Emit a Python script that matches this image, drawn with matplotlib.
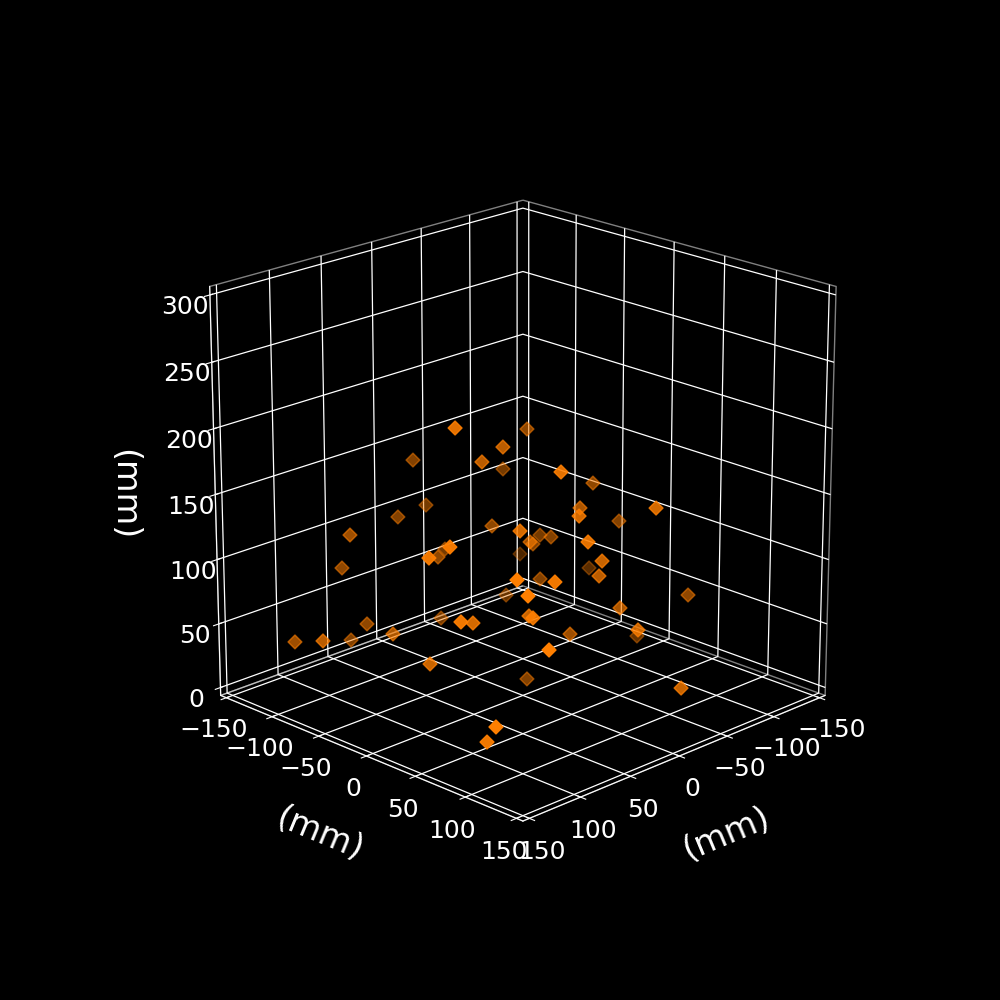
import numpy as np
import matplotlib
matplotlib.use('Agg')
import matplotlib.pyplot as plt

# =========================
# Data (mm)
# =========================
x_mm = [-42.8, 69.0, 12.5, 25.7, -47.5, 9.7, 23.9, -67.3, -30.0, 8.9, -30.9, -86.3, -0.9, 27.6, 80.6, -7.7, 41.0, -55.0, -48.2,
        -10.3, -37.6, 22.4, -3.0, 102.5, 25.6, 114.7, -83.4, 77.0, -6.3, -102.3, -13.8, -35.1, 56.6, 87.9, 85.2, -41.2, -96.6,
        -32.9, -12.5, -102.6, -14.6, 39.8, 62.6, 11.4, 109.7, 80.2, 87.1, 74.0, 73.7, 136.9, 127.5, 83.9, 97.8, -10.6, -24.2,
        122.8, 117.1]
y_mm = [-38.6, 1.7, -7.7, -15.7, -68.3, -104.3, 61.7, 4.9, 28.1, 65.0, 102.1, 13.3, -102.0, -102.0, -96.4, -39.6, 38.1, -37.2,
        -19.1, -3.0, -27.2, 87.0, -84.3, 30.5, -61.9, 22.0, -86.5, -109.5, 73.2, -32.4, 63.1, -17.3, 88.2, 82.1, 90.2, -58.9,
        73.6, 65.9, 103.1, 17.2, 33.6, 45.9, 72.6, -74.0, 48.6, 30.3, -45.1, -86.7, -104.5, -65.1, -105.8, 109.5, 4.5, -6.4,
        134.7, 96.4, 81.7]
z_mm = [179.9, 217.9, 187.4, 177.4, 140.3, 152.6, 188.9, 142.9, 139.3, 152.9, 158.2, 110.6, 115.3, 113.4, 114.8, 113.5, 143.0,
        94.5, 99.6, 110.1, 94.8, 142.8, 84.8, 145.3, 92.2, 138.1, 58.7, 84.7, 117.0, 57.0, 100.8, 70.7, 122.4, 130.8, 120.4,
        44.8, 66.2, 71.7, 71.0, 16.2, 47.5, 80.3, 92.7, 37.0, 96.2, 81.9, 54.1, 46.4, 28.6, 57.2, 42.1, 85.2, 48.3, 1.8, 32.2,
        35.1, 17.5]
xy_ticks = [-150, -100, -50, 0, 50, 100, 150]
z_ticks = [0, 50, 100, 150, 200, 250, 300]

# =========================
# Plot
# =========================
plt.style.use('dark_background')
plt.rcParams['grid.linewidth'] = 0.9

fig = plt.figure(figsize=(10, 10), dpi=100)
ax = fig.add_subplot(projection='3d')
ax.view_init(elev=20, azim=45)
ax.set_box_aspect((1, 1, 1), zoom=0.95)

ax.scatter(x_mm, y_mm, z_mm, marker='D', s=50, color='#ff7f00')

ax.set_xlim(-150, 150, view_margin=1/48)
ax.set_ylim(-150, 150, view_margin=1/48)
ax.set_zlim(0, 300, view_margin=1/48)
ax.set_xticks(xy_ticks)
ax.set_yticks(xy_ticks)
ax.set_zticks(z_ticks)

# Transparent panes with grey edges
for axis in (ax.xaxis, ax.yaxis, ax.zaxis):
    axis.pane.fill = False
    axis.pane.set_edgecolor((1, 1, 1, 0.5))

ax.tick_params(labelsize=18)
ax.xaxis.set_rotate_label(True)
ax.yaxis.set_rotate_label(True)
ax.zaxis.set_rotate_label(False)
ax.set_xlabel('(mm)', fontsize=24, labelpad=21)
ax.set_ylabel('(mm)', fontsize=24, labelpad=21)
ax.set_zlabel('(mm)', fontsize=24, labelpad=22, rotation=270)

fig.savefig('out.png', dpi=100, facecolor='black')
